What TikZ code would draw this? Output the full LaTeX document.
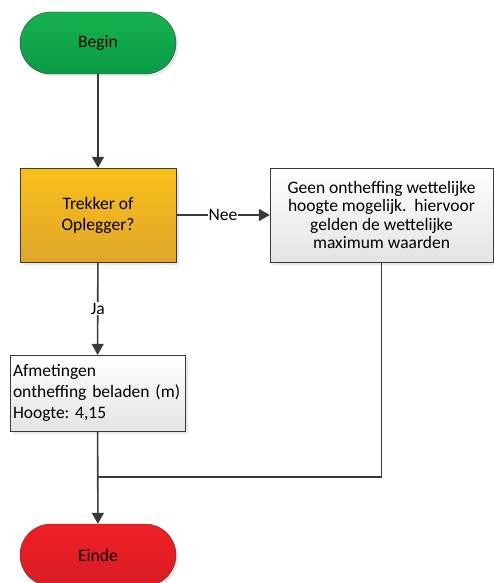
\documentclass[tikz,border=0pt]{standalone}
\usepackage{fontspec}
\setmainfont{Carlito}
\usetikzlibrary{arrows.meta,shadows}
\frenchspacing

\definecolor{lijn}{HTML}{3A3A3A}
\definecolor{groenA}{HTML}{17B24F}
\definecolor{groenB}{HTML}{0A9A45}
\definecolor{oranjeA}{HTML}{FAC01A}
\definecolor{oranjeB}{HTML}{DFA52B}
\definecolor{roodA}{HTML}{EF1F26}
\definecolor{roodB}{HTML}{D81C23}
\definecolor{grijsB}{HTML}{E4E4E4}

\begin{document}
\begin{tikzpicture}[x=1pt,y=-1pt,
	every node/.style={font=\fontsize{17.5}{18.5}\selectfont, draw=lijn, thin},
	schaduw/.style={drop shadow={opacity=0.18, shadow xshift=2.5pt, shadow yshift=-2.5pt}},
	terminal/.style={schaduw, rounded corners=31pt, minimum width=156pt, minimum height=62pt},
	vraag/.style={schaduw, minimum width=156pt, minimum height=94pt, align=center,
		top color=oranjeA, bottom color=oranjeB},
	proces/.style={schaduw, top color=white, bottom color=grijsB},
	label/.style={draw=none, fill=white, inner sep=1pt},
	pijl/.style={draw=lijn, line width=1.6pt, -{Triangle[length=11pt,width=12pt]}}]

	\useasboundingbox (0,0) rectangle (493,583);

	\node[terminal, top color=groenA, bottom color=groenB] (begin) at (98,43) {Begin};
	\node[vraag, font=\fontsize{17.5}{21}\selectfont] (trekker) at (98,215) {Trekker of\\Oplegger?};
	\node[proces, minimum width=223pt, minimum height=94pt, align=center] (geen) at (381.5,215)
		{Geen ontheffing wettelijke\\hoogte mogelijk.\ \ hiervoor\\gelden de wettelijke\\maximum waarden};
	\node[proces, minimum width=175pt, minimum height=76pt, align=left, text width=169pt,
		inner sep=3pt, font=\fontsize{17.5}{21}\selectfont] (afmet) at (97.5,393)
		{Afmetingen\\ontheffing beladen (m)\\Hoogte: 4,15};
	\node[terminal, top color=roodA, bottom color=roodB] (einde) at (98,555) {Einde};
	\coordinate (samen) at (98,477);

	\draw[pijl] (begin) -- (trekker);
	\draw[pijl] (trekker) -- node[label] {Nee} (geen);
	\draw[pijl] (trekker) -- node[label] {Ja} (afmet);
	\draw[pijl] (afmet) -- (einde);
	\draw[draw=lijn, line width=1.6pt] (geen.south) |- (samen);

\end{tikzpicture}
\end{document}
